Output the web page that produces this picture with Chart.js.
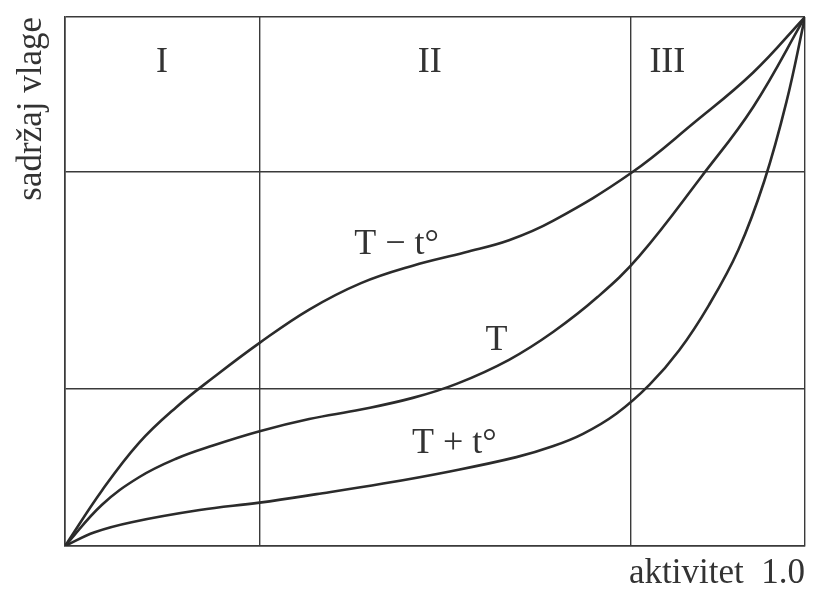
<!DOCTYPE html>
<html>
<head>
<meta charset="utf-8">
<script src="https://cdn.jsdelivr.net/npm/chart.js@4/dist/chart.umd.min.js"></script>
<style>
html,body{margin:0;padding:0;background:#fff;}
#wrap{width:826px;height:595px;}
</style>
</head>
<body>
<div id="wrap"><canvas id="c" width="826" height="595"></canvas></div>
<script>
// Curve T − t° (top)
const xTop = [0, 0.05, 0.10, 0.15, 0.20, 0.263, 0.33, 0.40, 0.47, 0.54, 0.60, 0.66, 0.765, 0.85, 0.93, 1];
const yTop = [0, 0.105, 0.195, 0.262, 0.318, 0.384, 0.447, 0.497, 0.530, 0.555, 0.578, 0.615, 0.705, 0.800, 0.895, 1];
// Curve T (middle)
const xMid = [0, 0.05, 0.10, 0.15, 0.20, 0.263, 0.33, 0.40, 0.47, 0.53, 0.60, 0.66, 0.72, 0.776, 0.861, 0.93, 1];
const yMid = [0, 0.078, 0.130, 0.165, 0.190, 0.217, 0.240, 0.258, 0.280, 0.307, 0.352, 0.405, 0.471, 0.548, 0.700, 0.830, 1];
// Curve T + t° (bottom)
const xBot = [0, 0.04, 0.09, 0.182, 0.263, 0.34, 0.43, 0.52, 0.61, 0.66, 0.70, 0.745, 0.79, 0.83, 0.87, 0.91, 0.945, 0.975, 1];
const yBot = [0, 0.026, 0.045, 0.068, 0.082, 0.098, 0.118, 0.141, 0.168, 0.189, 0.212, 0.250, 0.305, 0.370, 0.455, 0.560, 0.690, 0.840, 1];

// Grid (zone boundaries)
const xGrid = [0, 0.263, 0.765, 1];
const yGrid = [0, 0.297, 0.707, 1];

// Text labels placed in data coordinates
const labelTexts = ['I', 'II', 'III', 'T \u2212 t\u00B0', 'T', 'T + t\u00B0'];
const labelX = [0.131, 0.493, 0.814, 0.448, 0.583, 0.526];
const labelY = [0.913, 0.913, 0.913, 0.569, 0.389, 0.193];

const xTitle = 'aktivitet  1.0';
const yTitle = 'sadr\u017Eaj vlage';

const FONT = "'Liberation Serif', 'Times New Roman', serif";
const INK = '#2b2b2b';

function pts(xs, ys){ return xs.map((x,i)=>({x:x, y:ys[i]})); }

const labelPlugin = {
  id: 'labels',
  afterDatasetsDraw(chart){
    const ctx = chart.ctx;
    const xs = chart.scales.x, ys = chart.scales.y;
    ctx.save();
    ctx.fillStyle = '#333';
    ctx.font = '36px ' + FONT;
    ctx.textAlign = 'center';
    ctx.textBaseline = 'middle';
    labelTexts.forEach((t,i)=>{
      ctx.fillText(t, xs.getPixelForValue(labelX[i]), ys.getPixelForValue(labelY[i]));
    });
    ctx.restore();
  }
};

const ds = (xs, ys) => ({
  data: pts(xs, ys),
  showLine: true,
  borderColor: INK,
  borderWidth: 2.6,
  pointRadius: 0,
  tension: 0.4,
  fill: false
});

new Chart(document.getElementById('c'), {
  type: 'scatter',
  data: { datasets: [ds(xTop, yTop), ds(xMid, yMid), ds(xBot, yBot)] },
  options: {
    responsive: false,
    animation: false,
    layout: { padding: { top: 17, right: 21, left: 0, bottom: 0 } },
    plugins: { legend: { display: false }, tooltip: { enabled: false } },
    scales: {
      x: {
        type: 'linear', min: 0, max: 1,
        afterBuildTicks: s => { s.ticks = xGrid.map(v => ({ value: v })); },
        afterFit: s => { s.height = 49; },
        ticks: { display: false },
        grid: { color: '#3a3a3a', lineWidth: 1.4, drawTicks: false },
        border: { display: true, color: '#3a3a3a', width: 1.6 },
        title: { display: true, text: xTitle, align: 'end', color: '#333',
                 font: { family: FONT, size: 35 }, padding: { top: 0, bottom: 0 } }
      },
      y: {
        type: 'linear', min: 0, max: 1,
        afterBuildTicks: s => { s.ticks = yGrid.map(v => ({ value: v })); },
        afterFit: s => { s.width = 65; },
        ticks: { display: false },
        grid: { color: '#3a3a3a', lineWidth: 1.4, drawTicks: false },
        border: { display: true, color: '#3a3a3a', width: 1.6 },
        title: { display: true, text: yTitle, align: 'end', color: '#333',
                 font: { family: FONT, size: 35 }, padding: { top: 11, bottom: 0 } }
      }
    }
  },
  plugins: [labelPlugin]
});
</script>
</body>
</html>
